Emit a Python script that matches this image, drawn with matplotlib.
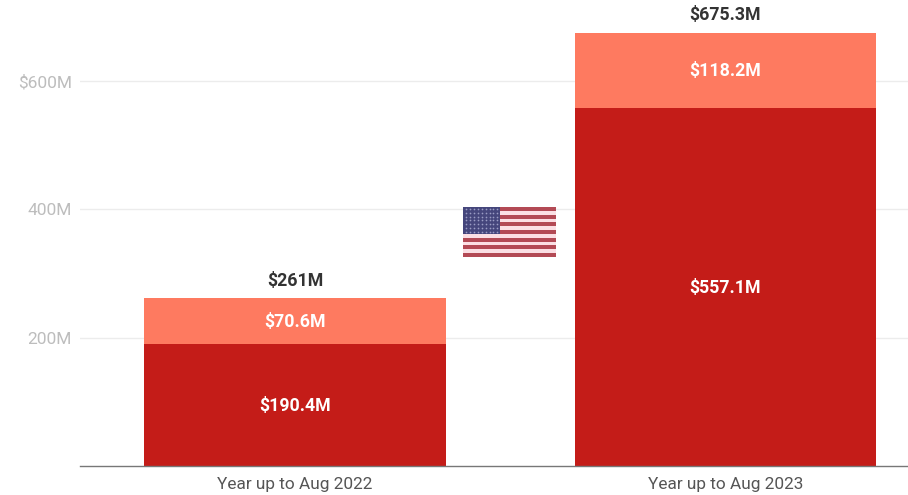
import matplotlib
matplotlib.use("Agg")
import matplotlib.pyplot as plt
import numpy as np

plt.rcParams['font.family'] = ['Roboto', 'DejaVu Sans']

# data ($M)
periods = ["Year up to Aug 2022", "Year up to Aug 2023"]
lower_values = [190.4, 557.1]
upper_values = [70.6, 118.2]
lower_labels = ["$190.4M", "$557.1M"]
upper_labels = ["$70.6M", "$118.2M"]
total_values = [261, 675.3]
total_labels = ["$261M", "$675.3M"]
y_ticks = [200, 400, 600]
y_tick_labels = ["200M", "400M", "$600M"]

W, H = 908, 495
fig = plt.figure(figsize=(W / 100, H / 100), dpi=100)
ax = fig.add_axes([80 / W, (H - 466) / H, 1 - 80 / W, 466 / H])

x = np.arange(len(periods))
ax.bar(x, lower_values, width=0.7, color="#c41c18", zorder=2)
ax.bar(x, upper_values, width=0.7, bottom=lower_values, color="#fe7a60", zorder=2)

for i in x:
    ax.text(i, lower_values[i] / 2 - 1, lower_labels[i], color="white", fontsize=12.8,
            fontweight="bold", ha="center", va="center", zorder=3)
    ax.text(i, lower_values[i] + upper_values[i] / 2 - 1, upper_labels[i], color="white", fontsize=12.8,
            fontweight="bold", ha="center", va="center", zorder=3)
    ax.text(i, total_values[i] + 27, total_labels[i], color="#333333", fontsize=12.8,
            fontweight="bold", ha="center", va="center", zorder=3)

ax.set_xlim(-0.4995, 1.4245)
ax.set_ylim(0, 726)
ax.set_xticks(x, periods)
ax.set_yticks(y_ticks, y_tick_labels)
ax.tick_params(axis="x", length=0, pad=8, labelsize=12.4, labelcolor="#555555")
ax.tick_params(axis="y", length=0, pad=6, labelsize=12.5, labelcolor="#bdbdbd")
ax.grid(axis="y", color="#ececec", linewidth=1, zorder=0)
for side in ["top", "left", "right"]:
    ax.spines[side].set_visible(False)
ax.spines["bottom"].set_color("#777777")
ax.spines["bottom"].set_linewidth(1)

# flag between the bars
flag = fig.add_axes([463 / W, (H - 257) / H, 93 / W, 50 / H])
flag.set_xlim(0, 1)
flag.set_ylim(0, 13)
flag.axis("off")
for s in range(13):
    flag.barh(s + 0.5, 1, height=1, left=0, color="#b34a55" if s % 2 == 0 else "#fbdfe4")
flag.barh(9.5, 0.4, height=7, left=0, color="#45467c")
star_x, star_y = np.meshgrid(np.linspace(0.03, 0.37, 9), np.linspace(6.6, 12.4, 7))
flag.scatter(star_x.ravel(), star_y.ravel(), s=1.5, color="#9a9cc4", linewidths=0)

fig.savefig("out.png", dpi=100)
